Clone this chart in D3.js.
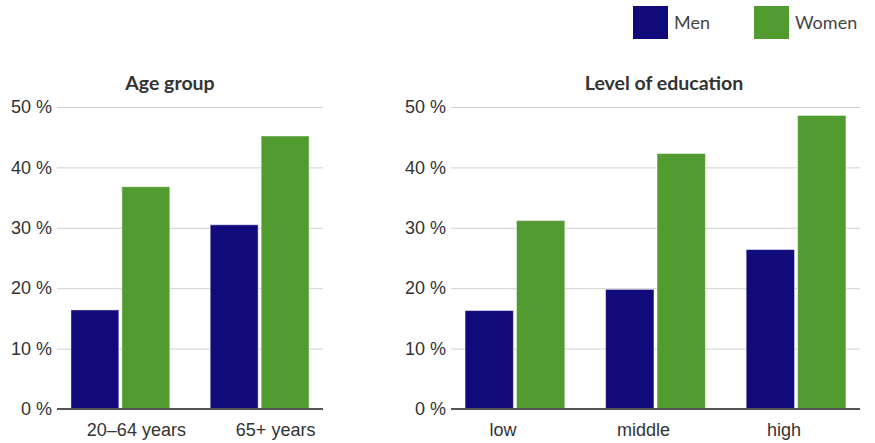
<!DOCTYPE html>
<html>
<head>
<meta charset="utf-8">
<script src="https://cdn.jsdelivr.net/npm/d3@7"></script>
<style>
  html, body { margin: 0; padding: 0; background: #fff; }
  svg { display: block; font-family: Lato, "Open Sans", sans-serif; }
</style>
</head>
<body>
<svg id="chart" width="875" height="443"></svg>
<script>
// Share of people in each group, by sex (percent)
const seriesNames = ["Men", "Women"];
const seriesColors = ["#110a7b", "#529b31"];

const ageTitle = "Age group";
const ageCategories = ["20–64 years", "65+ years"];
const ageMen = [16.4, 30.5];
const ageWomen = [36.8, 45.2];

const eduTitle = "Level of education";
const eduCategories = ["low", "middle", "high"];
const eduMen = [16.3, 19.8, 26.4];
const eduWomen = [31.2, 42.3, 48.6];

const yTicks = [0, 10, 20, 30, 40, 50];

const svg = d3.select("#chart");
const y = d3.scaleLinear().domain([0, 50]).range([409, 107]);

function panel(title, categories, men, women, x0, x1, titleX, labelShift) {
  const g = svg.append("g");
  const x = d3.scaleBand().domain(categories).range([x0, x1])
    .paddingInner(0.29).paddingOuter(0.1);
  const xs = d3.scaleBand().domain(seriesNames).range([0, x.bandwidth()]).paddingInner(0.06);

  // gridlines + y labels
  const yAxis = d3.axisLeft(y).tickValues(yTicks).tickFormat(d => d + " %")
    .tickSize(0).tickPadding(0);
  const ya = g.append("g").attr("transform", `translate(${x0},0)`).call(yAxis);
  ya.select(".domain").remove();
  ya.selectAll("text").attr("x", -5).attr("font-size", 18).attr("fill", "#333")
    .attr("font-family", "inherit");
  ya.selectAll(".tick").filter(d => d !== 0).append("line")
    .attr("x1", 0).attr("x2", x1 - x0).attr("stroke", "#d0d0d0").attr("stroke-width", 1);

  // bars
  const rows = categories.map((c, i) => ({ c, vals: [men[i], women[i]] }));
  const grp = g.selectAll("g.cat").data(rows).join("g")
    .attr("transform", d => `translate(${x(d.c)},0)`);
  grp.selectAll("rect").data(d => d.vals.map((v, k) => ({ v, k })))
    .join("rect")
    .attr("x", d => xs(seriesNames[d.k]))
    .attr("width", xs.bandwidth())
    .attr("y", d => y(d.v))
    .attr("height", d => y(0) - y(d.v))
    .attr("fill", d => seriesColors[d.k])
    .attr("stroke", "rgba(255,255,255,0.45)")
    .attr("stroke-width", 1);

  // baseline
  g.append("line").attr("x1", x0).attr("x2", x1)
    .attr("y1", y(0)).attr("y2", y(0))
    .attr("stroke", "#555").attr("stroke-width", 2);

  // x labels
  const xAxis = d3.axisBottom(x).tickSize(0).tickPadding(0);
  const xa = g.append("g").attr("transform", `translate(0,${y(0)})`).call(xAxis);
  xa.select(".domain").remove();
  xa.selectAll("text").attr("x", labelShift).attr("y", 14).attr("font-size", 18)
    .attr("fill", "#333").attr("font-family", "inherit");

  // title
  g.append("text").attr("x", titleX).attr("y", 90)
    .attr("text-anchor", "middle").attr("font-size", 19.5).attr("font-weight", "bold")
    .attr("fill", "#333").text(title);
}

panel(ageTitle, ageCategories, ageMen, ageWomen, 57, 323, 170, 16);
panel(eduTitle, eduCategories, eduMen, eduWomen, 451, 860, 664, -12);

// legend
const legend = svg.append("g");
const legendX = [633, 754];
seriesNames.forEach((name, i) => {
  legend.append("rect").attr("x", legendX[i]).attr("y", 6)
    .attr("width", 35).attr("height", 33).attr("fill", seriesColors[i]);
  legend.append("text").attr("x", legendX[i] + 41).attr("y", 29)
    .attr("font-size", 18).attr("fill", "#444").text(name);
});
</script>
</body>
</html>
